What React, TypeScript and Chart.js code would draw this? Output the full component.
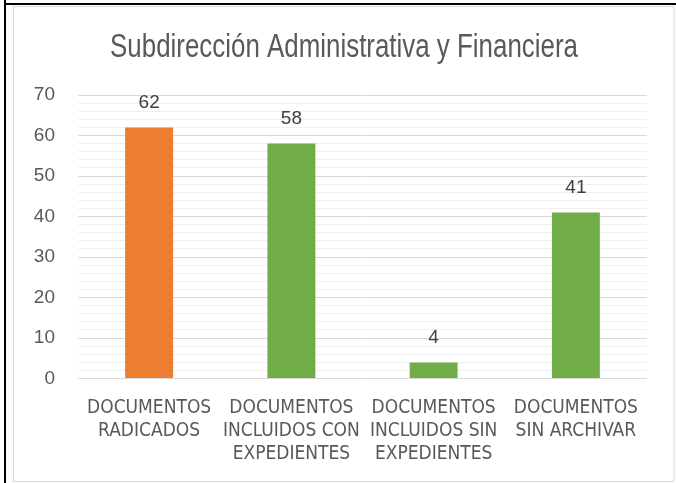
import React, { useEffect, useRef } from "react";
import { Chart, registerables } from "chart.js";

Chart.register(...registerables);

const TITLE = "Subdirección Administrativa y Financiera";
const categories: string[][] = [
  ["DOCUMENTOS", "RADICADOS"],
  ["DOCUMENTOS", "INCLUIDOS CON", "EXPEDIENTES"],
  ["DOCUMENTOS", "INCLUIDOS SIN", "EXPEDIENTES"],
  ["DOCUMENTOS", "SIN ARCHIVAR"],
];
const values: number[] = [62, 58, 4, 41];
const barColors: string[] = ["#ED7D31", "#70AD47", "#70AD47", "#70AD47"];
const yMin = 0;
const yMax = 70;
const yMajorStep = 10;
const yMinorStep = 2;

const NARROW = "'DejaVu Sans Condensed', 'Liberation Sans', sans-serif";
const NUM = "'Liberation Sans', Arial, sans-serif";

const framePlugin = {
  id: "frame",
  beforeDraw(chart: any) {
    const { ctx, width, height } = chart;
    ctx.save();
    ctx.fillStyle = "#ffffff";
    ctx.fillRect(0, 0, width, height);
    ctx.strokeStyle = "#d9d9d9";
    ctx.lineWidth = 1;
    ctx.strokeRect(13.5, 6.5, width - 14.5 - 1, height - 6.5 - 1.5);
    ctx.fillStyle = "#000000";
    ctx.fillRect(4, 0, 2, height);
    ctx.fillRect(4, 3, width - 4, 2);
    ctx.restore();
  },
};

const titlePlugin = {
  id: "condensedTitle",
  afterDraw(chart: any) {
    const { ctx } = chart;
    ctx.save();
    ctx.font = `33px ${NUM}`;
    ctx.fillStyle = "#595959";
    ctx.textAlign = "center";
    ctx.textBaseline = "alphabetic";
    ctx.translate(344, 56.5);
    ctx.scale(0.785, 1);
    ctx.fillText(TITLE, 0, 0);
    ctx.restore();
  },
};

const labelPlugin = {
  id: "valueLabels",
  afterDatasetsDraw(chart: any) {
    const { ctx } = chart;
    const meta = chart.getDatasetMeta(0);
    ctx.save();
    ctx.font = `19px ${NUM}`;
    ctx.fillStyle = "#404040";
    ctx.textAlign = "center";
    ctx.textBaseline = "middle";
    meta.data.forEach((bar: any, i: number) => {
      ctx.fillText(String(chart.data.datasets[0].data[i]), bar.x, bar.y - 25);
    });
    ctx.restore();
  },
};

export default function App() {
  const ref = useRef<HTMLCanvasElement | null>(null);
  useEffect(() => {
    if (!ref.current) return;
    const chart = new Chart(ref.current, {
      type: "bar",
      data: {
        labels: categories,
        datasets: [
          {
            data: values,
            backgroundColor: barColors,
            barPercentage: 0.337,
            categoryPercentage: 1,
          },
        ],
      },
      options: {
        animation: false,
        responsive: false,
        maintainAspectRatio: false,
        layout: { padding: { left: 12, right: 29, top: 95, bottom: 0 } },
        plugins: {
          legend: { display: false },
          tooltip: { enabled: false },
          title: { display: false },
        },
        scales: {
          x: {
            grid: { display: false },
            border: { display: false },
            ticks: {
              color: "#595959",
              font: { family: NARROW, size: 19, lineHeight: 1.22 },
              maxRotation: 0,
              minRotation: 0,
              autoSkip: false,
              padding: 10,
            },
            afterFit(scale: any) {
              scale.height = 104.4;
            },
          },
          y: {
            min: yMin,
            max: yMax,
            border: { display: false },
            grid: {
              drawTicks: false,
              color: (c: any) => (c.tick && c.tick.value % yMajorStep === 0 ? "#d9d9d9" : "#efefef"),
              lineWidth: 1,
            },
            ticks: {
              stepSize: yMinorStep,
              autoSkip: false,
              color: "#595959",
              font: { family: NUM, size: 19 },
              padding: 23,
              callback: (v: any) => (Number(v) % yMajorStep === 0 ? String(v) : ""),
            },
            afterFit(scale: any) {
              scale.width = 66;
            },
          },
        },
      },
      plugins: [framePlugin, labelPlugin, titlePlugin],
    });
    return () => chart.destroy();
  }, []);
  return (
    <div style={{ position: "fixed", left: 0, top: 0, width: 676, height: 483 }}>
      <canvas ref={ref} width={676} height={483} style={{ width: 676, height: 483, display: "block" }} />
    </div>
  );
}
